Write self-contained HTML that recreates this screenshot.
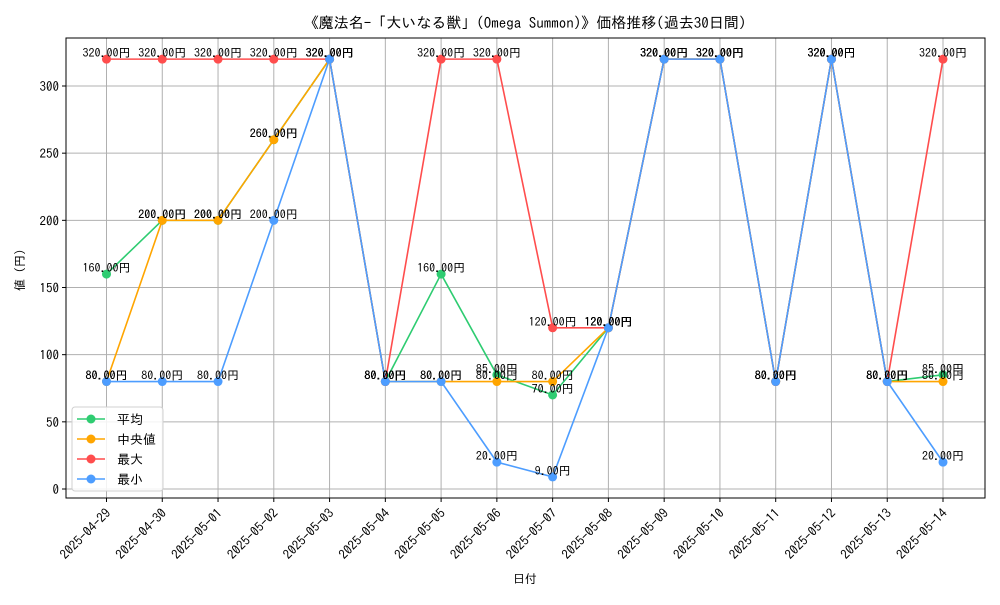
<!DOCTYPE html>
<html><head><meta charset="utf-8"><style>
body{margin:0;background:#fff;}
svg text{font-family:"IPAGothic","Noto Sans CJK JP",sans-serif;}
</style></head><body>
<svg id="chart" width="1000" height="600" xmlns="http://www.w3.org/2000/svg">
<rect width="1000" height="600" fill="#fff"/>
<g id="grid"></g><g id="series"></g><g id="axes"></g>
</svg>
<script>
const dates=["2025-04-29","2025-04-30","2025-05-01","2025-05-02","2025-05-03","2025-05-04","2025-05-05","2025-05-06","2025-05-07","2025-05-08","2025-05-09","2025-05-10","2025-05-11","2025-05-12","2025-05-13","2025-05-14"];
const avgVals=[160,200,200,260,320,80,160,85,70,120,320,320,80,320,80,85];
const medianVals=[80,200,200,260,320,80,80,80,80,120,320,320,80,320,80,80];
const maxVals=[320,320,320,320,320,80,320,320,120,120,320,320,80,320,80,320];
const minVals=[80,80,80,200,320,80,80,20,9,120,320,320,80,320,80,20];
const yTicks=[0,50,100,150,200,250,300];
const seriesNames=["平均","中央値","最大","最小"];
const seriesColors=["#2ecc71","#ffa500","#ff4d4d","#4d9dff"];

const NS="http://www.w3.org/2000/svg";
const L=66,R=985,T=38,B=498;
const x=i=>106.5+i*(943-106.5)/(dates.length-1);
const y=v=>489-v*(489-86)/300;
function mk(tag,attrs,parent,text){const e=document.createElementNS(NS,tag);for(const k in attrs)e.setAttribute(k,attrs[k]);if(text!==undefined)e.textContent=text;parent.appendChild(e);return e;}
const svg=document.getElementById('chart'),grid=document.getElementById('grid'),ser=document.getElementById('series'),ax=document.getElementById('axes');

dates.forEach((d,i)=>{
 const g=mk('line',{x1:x(i),x2:x(i),y1:T,y2:B,stroke:'#b0b0b0','stroke-width':1},grid);
 
 
 const t=mk('line',{x1:x(i),x2:x(i),y1:B,y2:B+4,stroke:'#000'},ax);
 
 
 const lb=mk('text',{x:x(i)+5,y:B+16,'font-size':13,'text-anchor':'end',transform:`rotate(-45 ${x(i)+5} ${B+16})`},ax,d);
 
 
});
yTicks.forEach(v=>{
 const g=mk('line',{x1:L,x2:R,y1:y(v),y2:y(v),stroke:'#b0b0b0','stroke-width':1},grid);
 
 
 const t=mk('line',{x1:L-4,x2:L,y1:y(v),y2:y(v),stroke:'#000'},ax);
 
 
 const lb=mk('text',{x:L-7,y:y(v)+5,'font-size':13,'text-anchor':'end'},ax,String(v));
 
 
});
const frame=mk('rect',{x:L,y:T,width:R-L,height:B-T,fill:'none',stroke:'#000','stroke-width':1},ax);



const all=[avgVals,medianVals,maxVals,minVals];
const keys=['avg','median','max','min'];
all.forEach((vals,si)=>{
 const g=mk('g',{},ser);
 
 
 const p=mk('polyline',{points:vals.map((v,i)=>x(i)+','+y(v)).join(' '),fill:'none',stroke:seriesColors[si],'stroke-width':1.6},g);
 
 
 vals.forEach((v,i)=>{
  const c=mk('circle',{cx:x(i),cy:y(v),r:4.5,fill:seriesColors[si]},g);
  
  
 });
});
all.forEach((vals,si)=>{
 vals.forEach((v,i)=>{
  const t=mk('text',{x:x(i),y:y(v)-2,'font-size':12,'text-anchor':'middle',fill:'#000'},ser,v.toFixed(2)+'円');
  
  
 });
});

const title=mk('text',{x:525,y:28,'font-size':15,'text-anchor':'middle'},svg,'《魔法名-「大いなる獣」(Omega Summon)》価格推移(過去30日間)');


const xt=mk('text',{x:525,y:583,'font-size':12,'text-anchor':'middle'},svg,'日付');


const yt=mk('text',{x:24,y:270,'font-size':12,'text-anchor':'middle',transform:'rotate(-90 24 270)'},svg,'値 (円)');



const lg=mk('g',{},svg);


mk('rect',{x:72,y:407,width:91,height:84,rx:3,fill:'#fff','fill-opacity':0.85,stroke:'#d0d0d0'},lg);
seriesNames.forEach((n,si)=>{
 const yy=419+si*20;
 const e=mk('g',{},lg);
 
 
 mk('line',{x1:77,x2:105,y1:yy,y2:yy,stroke:seriesColors[si],'stroke-width':1.6},e);
 mk('circle',{cx:91,cy:yy,r:4.5,fill:seriesColors[si]},e);
 mk('text',{x:117,y:yy+5,'font-size':13},e,n);
});
</script>
</body></html>
